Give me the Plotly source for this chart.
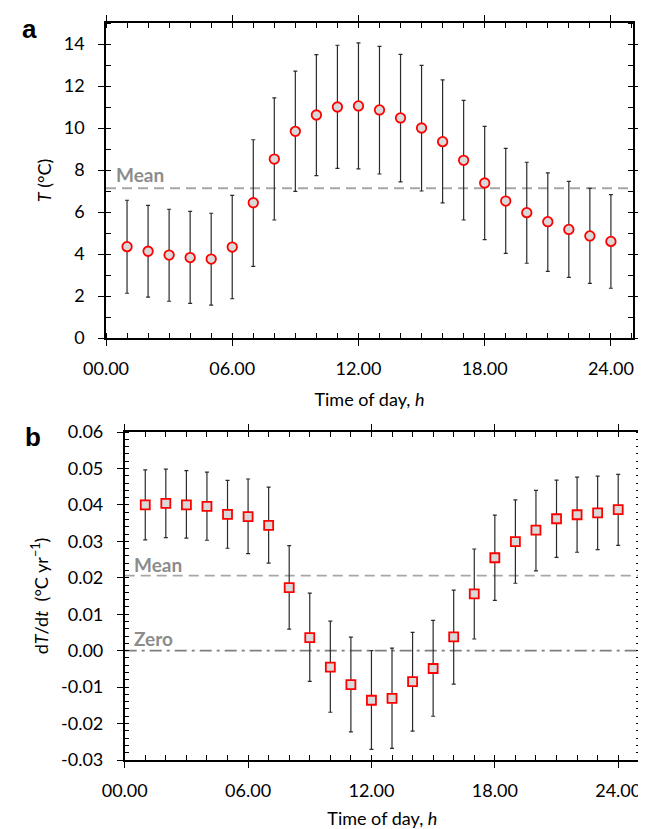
import plotly.graph_objects as go

# ---------------- data ----------------
hours = list(range(1, 25))

temp_mean = [4.35, 4.13, 3.95, 3.83, 3.76, 4.33, 6.44, 8.52, 9.84, 10.62, 11.00, 11.05,
             10.86, 10.48, 10.00, 9.35, 8.46, 7.38, 6.52, 5.97, 5.54, 5.17, 4.86, 4.60]
temp_upper = [6.56, 6.32, 6.13, 6.03, 5.94, 6.79, 9.44, 11.43, 12.71, 13.49, 13.94, 14.05,
              13.89, 13.51, 12.98, 12.29, 11.32, 10.08, 9.03, 8.37, 7.86, 7.46, 7.13, 6.83]
temp_lower = [2.13, 1.95, 1.75, 1.65, 1.57, 1.87, 3.41, 5.62, 6.98, 7.73, 8.08, 8.05,
              7.81, 7.43, 7.00, 6.43, 5.62, 4.68, 4.03, 3.56, 3.17, 2.89, 2.60, 2.37]
temp_overall_mean = 7.13

trend_mean = [0.0400, 0.0404, 0.0400, 0.0396, 0.0374, 0.0368, 0.0344, 0.0173, 0.0036, -0.0045,
              -0.0093, -0.0136, -0.0131, -0.0085, -0.0049, 0.0038, 0.0156, 0.0255, 0.0299, 0.0331,
              0.0362, 0.0373, 0.0378, 0.0387]
trend_upper = [0.0496, 0.0498, 0.0494, 0.0490, 0.0467, 0.0471, 0.0449, 0.0288, 0.0158, 0.0081,
               0.0037, 0.0000, 0.0007, 0.0050, 0.0083, 0.0166, 0.0279, 0.0372, 0.0414, 0.0440,
               0.0468, 0.0476, 0.0479, 0.0484]
trend_lower = [0.0304, 0.0310, 0.0309, 0.0303, 0.0281, 0.0266, 0.0240, 0.0059, -0.0084, -0.0169,
               -0.0223, -0.0271, -0.0268, -0.0221, -0.0180, -0.0092, 0.0032, 0.0138, 0.0185, 0.0219,
               0.0256, 0.0270, 0.0277, 0.0289]
trend_overall_mean = 0.0206
zero_value = 0.0

x_tick_vals = [0, 6, 12, 18, 24]
x_tick_text = ["00.00", "06.00", "12.00", "18.00", "24.00"]
a_y_ticks = [0, 2, 4, 6, 8, 10, 12, 14]
b_y_ticks = [-0.03, -0.02, -0.01, 0.0, 0.01, 0.02, 0.03, 0.04, 0.05, 0.06]
b_y_text = ["-0.03", "-0.02", "-0.01", "0.00", "0.01", "0.02", "0.03", "0.04", "0.05", "0.06"]

# ---------------- styling ----------------
W, H = 646, 829
FONT = "Lato"
TICKFONT = dict(family=FONT, size=18, color="#000000")
ERR_COLOR = "#2b2b2b"


def err(mean, up, lo):
    return dict(type="data", symmetric=False,
                array=[u - m for u, m in zip(up, mean)],
                arrayminus=[m - l for m, l in zip(mean, lo)],
                color=ERR_COLOR, thickness=1.2, width=2)


fig = go.Figure()
fig.add_trace(go.Scatter(
    x=hours, y=temp_mean, mode="markers", xaxis="x", yaxis="y",
    marker=dict(symbol="circle", size=9.5, color="#d9d9d9", line=dict(color="#ff0000", width=1.8)),
    error_y=err(temp_mean, temp_upper, temp_lower), showlegend=False, cliponaxis=False))
fig.add_trace(go.Scatter(
    x=hours, y=trend_mean, mode="markers", xaxis="x2", yaxis="y2",
    marker=dict(symbol="square", size=9, color="#d9d9d9", line=dict(color="#ff0000", width=1.8)),
    error_y=err(trend_mean, trend_upper, trend_lower), showlegend=False, cliponaxis=False))

ax_a = dict(x0=98, x1=625, y0=15, y1=330)
ax_b = dict(x0=116.7, x1=632, y0=424, y1=752)


def xdom(a):
    return [a["x0"] / W, a["x1"] / W]


def ydom(a):
    return [1 - a["y1"] / H, 1 - a["y0"] / H]


common_axis = dict(showline=True, linecolor="#000000", linewidth=1.6, mirror="ticks",
                   showgrid=False, zeroline=False, ticks="outside", ticklen=6, tickwidth=1.2,
                   tickcolor="#000000", tickfont=TICKFONT, automargin=False)

x_common = dict(common_axis, tickmode="array", tickvals=x_tick_vals, ticktext=x_tick_text,
                minor=dict(dtick=1, tick0=0, ticks="inside", ticklen=5, tickwidth=1, tickcolor="#000000"))

fig.update_layout(
    width=W, height=H, margin=dict(l=0, r=0, t=0, b=0),
    paper_bgcolor="white", plot_bgcolor="white",
    font=dict(family=FONT, size=18, color="#000000"),
    xaxis=dict(x_common, domain=xdom(ax_a), range=[0, 25.05], anchor="y",
               ticklabelstandoff=8,
               title=dict(text="Time of day, <i>h</i>", font=dict(family=FONT, size=18), standoff=15)),
    yaxis=dict(common_axis, domain=ydom(ax_a), range=[0, 15], anchor="x",
               tickmode="array", tickvals=a_y_ticks, ticklabelstandoff=10,
               minor=dict(dtick=1, tick0=0, ticks="inside", ticklen=5, tickwidth=1, tickcolor="#000000"),
               title=dict(text="<i>T</i> (°C)", font=dict(family=FONT, size=18), standoff=7)),
    xaxis2=dict(x_common, domain=xdom(ax_b), range=[0, 25.06], anchor="y2",
                ticklabelstandoff=8,
                title=dict(text="Time of day, <i>h</i>", font=dict(family=FONT, size=18), standoff=12)),
    yaxis2=dict(common_axis, domain=ydom(ax_b), range=[-0.03, 0.06], anchor="x2",
                tickmode="array", tickvals=b_y_ticks, ticktext=b_y_text, ticklabelstandoff=10,
                minor=dict(dtick=0.002, tick0=0, ticks="inside", ticklen=4, tickwidth=1, tickcolor="#000000"),
                title=dict(text="d<i>T</i>/d<i>t</i>\u00a0\u00a0(°C yr<sup>−1</sup>)",
                           font=dict(family=FONT, size=18), standoff=8)),
)

fig.add_shape(type="line", xref="x domain", yref="y", x0=0, x1=1,
              y0=temp_overall_mean, y1=temp_overall_mean,
              line=dict(color="#a6a6a6", width=2, dash="10px,6px"), layer="below")
fig.add_shape(type="line", xref="x2 domain", yref="y2", x0=0, x1=1,
              y0=trend_overall_mean, y1=trend_overall_mean,
              line=dict(color="#a6a6a6", width=1.6, dash="10px,6px"), layer="below")
fig.add_shape(type="line", xref="x2 domain", yref="y2", x0=0, x1=1,
              y0=zero_value, y1=zero_value,
              line=dict(color="#7f7f7f", width=1.6, dash="12px,5px,3px,5px"), layer="below")

label_font = dict(family=FONT, size=19, color="#8c8c8c")
fig.add_annotation(xref="x domain", yref="y", x=0.015, y=temp_overall_mean, yshift=0,
                   text="<b>Mean</b>", showarrow=False, xanchor="left", yanchor="bottom", font=label_font)
fig.add_annotation(xref="x2 domain", yref="y2", x=0.015, y=trend_overall_mean, yshift=-2,
                   text="<b>Mean</b>", showarrow=False, xanchor="left", yanchor="bottom", font=label_font)
fig.add_annotation(xref="x2 domain", yref="y2", x=0.015, y=zero_value, yshift=-1,
                   text="<b>Zero</b>", showarrow=False, xanchor="left", yanchor="bottom", font=label_font)

panel_font = dict(family="Liberation Sans", size=26, color="#000000")
fig.add_annotation(xref="paper", yref="paper", x=12 / W, y=1 - 4 / H, text="<b>a</b>",
                   showarrow=False, xanchor="left", yanchor="top", font=panel_font)
fig.add_annotation(xref="paper", yref="paper", x=15 / W, y=1 - 412 / H, text="<b>b</b>",
                   showarrow=False, xanchor="left", yanchor="top", font=panel_font)

fig.write_html("out.html")
